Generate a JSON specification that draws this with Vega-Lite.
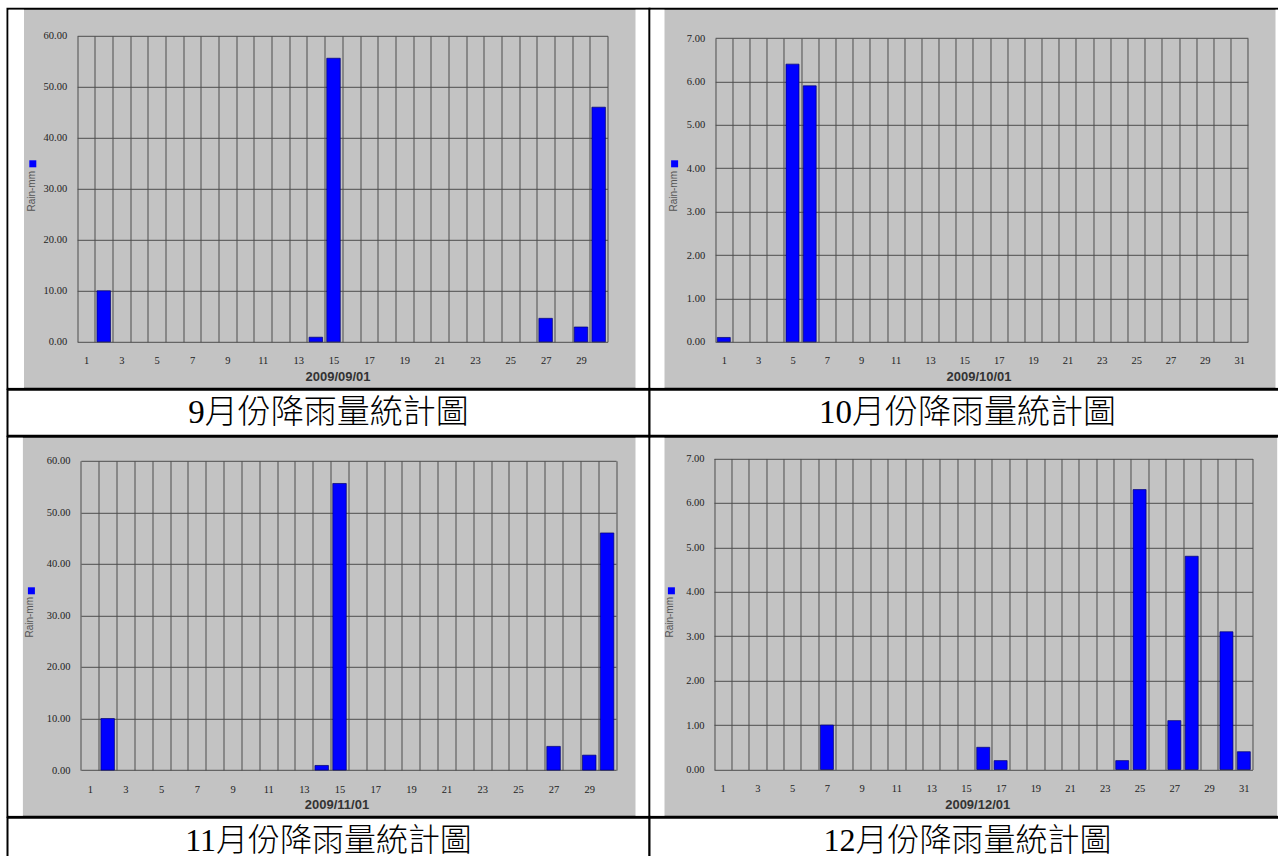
{
  "$schema": "https://vega.github.io/schema/vega-lite/v6.json",
  "background": "white",
  "padding": {"left": 6.5, "top": 7.8, "right": 0, "bottom": 0},
  "spacing": -2,
  "resolve": {"scale": {"color": "independent"}, "legend": {"color": "independent"}},
  "config": {
    "view": {"stroke": null},
    "axis": {"domain": false, "ticks": false, "tickSize": 0, "grid": true, "gridColor": "#4d4d4d", "gridWidth": 1, "gridOpacity": 1,
      "labelFont": "Liberation Serif", "labelFontSize": 10.5, "labelColor": "#222222", "labelFlush": false, "labelOverlap": false, "labelBound": false,
      "titleFont": "Liberation Sans"},
    "axisX": {"titleFontWeight": "bold", "titleFontSize": 13, "titleColor": "#333333", "titleBaseline": "middle", "titleAlign": "center", "labelBaseline": "middle", "labelPadding": 19},
    "axisY": {"titleFontWeight": "normal", "titleFontSize": 10, "titleColor": "#555555", "titleBaseline": "middle", "titleAlign": "center", "titleAngle": 270}
  },
  "datasets": {
    "sep": [{"day": 2, "rain": 10.0}, {"day": 14, "rain": 0.9}, {"day": 15, "rain": 55.6}, {"day": 27, "rain": 4.6}, {"day": 29, "rain": 2.9}, {"day": 30, "rain": 46.0}],
    "oct": [{"day": 1, "rain": 0.1}, {"day": 5, "rain": 6.4}, {"day": 6, "rain": 5.9}],
    "nov": [{"day": 2, "rain": 10.0}, {"day": 14, "rain": 0.9}, {"day": 15, "rain": 55.6}, {"day": 27, "rain": 4.6}, {"day": 29, "rain": 2.9}, {"day": 30, "rain": 46.0}],
    "dec": [{"day": 7, "rain": 1.0}, {"day": 16, "rain": 0.5}, {"day": 17, "rain": 0.2}, {"day": 24, "rain": 0.2}, {"day": 25, "rain": 6.3}, {"day": 27, "rain": 1.1}, {"day": 28, "rain": 4.8}, {"day": 30, "rain": 3.1}, {"day": 31, "rain": 0.4}]
  },
  "vconcat": [
    {
      "hconcat": [
        {
          "width": 642, "height": 380,
          "view": {"fill": "#c3c3c3", "stroke": "black", "strokeWidth": 2},
          "resolve": {"axis": {"x": "independent", "y": "independent"}},
          "layer": [
            {"data": {"name": "sep"},
             "mark": {"type": "bar", "orient": "vertical", "width": 13.5, "stroke": "#000070", "strokeWidth": 0.7},
             "encoding": {
               "x": {"field": "day", "type": "quantitative", "scale": {"domain": [0.5, 30.5], "range": [69.7, 600], "nice": false, "zero": false, "padding": 0},
                 "axis": {"orient": "bottom", "grid": false, "values": [0.5,1.5,2.5,3.5,4.5,5.5,6.5,7.5,8.5,9.5,10.5,11.5,12.5,13.5,14.5,15.5,16.5,17.5,18.5,19.5,20.5,21.5,22.5,23.5,24.5,25.5,26.5,27.5,28.5,29.5,30.5],
                   "labelExpr": "(datum.value + 0.5) % 2 == 1 && datum.value < 30 ? format(datum.value + 0.5, 'd') : ''",
                   "labelOffset": 8.84, "offset": -47, "title": "2009/09/01", "titleX": 330, "titleY": 35}},
               "y": {"field": "rain", "type": "quantitative", "scale": {"domain": [0, 60], "range": [333, 27], "nice": false, "padding": 0},
                 "axis": {"orient": "left", "values": [0, 10, 20, 30, 40, 50, 60], "format": ".2f", "offset": -69.7, "labelPadding": 10.5, "title": "Rain-mm", "titleX": -46, "titleY": 182}},
               "color": {"datum": "Rain-mm", "type": "nominal", "scale": {"range": ["#0000ff"]},
                 "legend": {"orient": "none", "legendX": 20.3, "legendY": 150, "title": null, "labelExpr": "''", "padding": 0, "symbolType": "square", "symbolSize": 49, "symbolStrokeWidth": 0}}
             }},
            {"data": {"values": [{}]}, "mark": {"type": "rect", "color": "white"},
             "encoding": {"x": {"datum": -3.386, "type": "quantitative",
                 "axis": {"orient": "top", "grid": true, "labels": false, "title": null, "offset": 0, "values": [0.5,1.5,2.5,3.5,4.5,5.5,6.5,7.5,8.5,9.5,10.5,11.5,12.5,13.5,14.5,15.5,16.5,17.5,18.5,19.5,20.5,21.5,22.5,23.5,24.5,25.5,26.5,27.5,28.5,29.5,30.5]}},
               "x2": {"datum": -2.51}, "y": {"datum": -9.02, "type": "quantitative", "axis": null}, "y2": {"datum": 65.098}}},
            {"data": {"values": [{}]}, "mark": {"type": "rect", "color": "white"},
             "encoding": {"x": {"datum": 32.084, "type": "quantitative", "axis": null}, "x2": {"datum": 32.819}, "y": {"datum": -9.02, "type": "quantitative", "axis": null}, "y2": {"datum": 65.098}}}
          ]
        },
        {
          "width": 636, "height": 380,
          "view": {"fill": "#c3c3c3", "stroke": "black", "strokeWidth": 2},
          "resolve": {"axis": {"x": "independent", "y": "independent"}},
          "layer": [
            {"data": {"name": "oct"},
             "mark": {"type": "bar", "orient": "vertical", "width": 13, "stroke": "#000070", "strokeWidth": 0.7},
             "encoding": {
               "x": {"field": "day", "type": "quantitative", "scale": {"domain": [0.5, 31.5], "range": [65.7, 598.3], "nice": false, "zero": false, "padding": 0},
                 "axis": {"orient": "bottom", "grid": false, "values": [0.5,1.5,2.5,3.5,4.5,5.5,6.5,7.5,8.5,9.5,10.5,11.5,12.5,13.5,14.5,15.5,16.5,17.5,18.5,19.5,20.5,21.5,22.5,23.5,24.5,25.5,26.5,27.5,28.5,29.5,30.5,31.5],
                   "labelExpr": "(datum.value + 0.5) % 2 == 1 ? format(datum.value + 0.5, 'd') : ''",
                   "labelOffset": 8.59, "offset": -47, "title": "2009/10/01", "titleX": 329, "titleY": 35}},
               "y": {"field": "rain", "type": "quantitative", "scale": {"domain": [0, 7], "range": [333, 29.3], "nice": false, "padding": 0},
                 "axis": {"orient": "left", "values": [0, 1, 2, 3, 4, 5, 6, 7], "format": ".2f", "offset": -65.7, "labelPadding": 10.5, "title": "Rain-mm", "titleX": -42.1, "titleY": 182}},
               "color": {"datum": "Rain-mm", "type": "nominal", "scale": {"range": ["#0000ff"]},
                 "legend": {"orient": "none", "legendX": 20.1, "legendY": 150, "title": null, "labelExpr": "''", "padding": 0, "symbolType": "square", "symbolSize": 49, "symbolStrokeWidth": 0}}
             }},
            {"data": {"values": [{}]}, "mark": {"type": "rect", "color": "white"},
             "encoding": {"x": {"datum": -3.266, "type": "quantitative",
                 "axis": {"orient": "top", "grid": true, "labels": false, "title": null, "offset": 0, "values": [0.5,1.5,2.5,3.5,4.5,5.5,6.5,7.5,8.5,9.5,10.5,11.5,12.5,13.5,14.5,15.5,16.5,17.5,18.5,19.5,20.5,21.5,22.5,23.5,24.5,25.5,26.5,27.5,28.5,29.5,30.5,31.5]}},
               "x2": {"datum": -2.451}, "y": {"datum": -1.06, "type": "quantitative", "axis": null}, "y2": {"datum": 7.652}}},
            {"data": {"values": [{}]}, "mark": {"type": "rect", "color": "white"},
             "encoding": {"x": {"datum": 33.112, "type": "quantitative", "axis": null}, "x2": {"datum": 33.635}, "y": {"datum": -1.06, "type": "quantitative", "axis": null}, "y2": {"datum": 7.652}}}
          ]
        }
      ],
      "spacing": 0, "bounds": "flush",
      "resolve": {"scale": {"color": "independent"}, "legend": {"color": "independent"}}
    },
    {
      "hconcat": [
        {"width": 642, "height": 46, "view": {"fill": "white", "stroke": "black", "strokeWidth": 2},
         "data": {"values": [{"caption": "9月份降雨量統計圖"}]},
         "mark": {"type": "text", "font": "'Liberation Serif', 'Noto Sans CJK TC', serif", "fontSize": 33, "fontWeight": 300, "color": "black", "baseline": "middle", "align": "center"},
         "encoding": {"text": {"field": "caption"}}},
        {"width": 636, "height": 46, "view": {"fill": "white", "stroke": "black", "strokeWidth": 2},
         "data": {"values": [{"caption": "10月份降雨量統計圖"}]},
         "mark": {"type": "text", "font": "'Liberation Serif', 'Noto Sans CJK TC', serif", "fontSize": 33, "fontWeight": 300, "color": "black", "baseline": "middle", "align": "center"},
         "encoding": {"text": {"field": "caption"}}}
      ],
      "spacing": 0, "bounds": "flush"
    },
    {
      "hconcat": [
        {
          "width": 642, "height": 380,
          "view": {"fill": "#c3c3c3", "stroke": "black", "strokeWidth": 2},
          "resolve": {"axis": {"x": "independent", "y": "independent"}},
          "layer": [
            {"data": {"name": "nov"},
             "mark": {"type": "bar", "orient": "vertical", "width": 13.5, "stroke": "#000070", "strokeWidth": 0.7},
             "encoding": {
               "x": {"field": "day", "type": "quantitative", "scale": {"domain": [0.5, 30.5], "range": [73.4, 608.5], "nice": false, "zero": false, "padding": 0},
                 "axis": {"orient": "bottom", "grid": false, "values": [0.5,1.5,2.5,3.5,4.5,5.5,6.5,7.5,8.5,9.5,10.5,11.5,12.5,13.5,14.5,15.5,16.5,17.5,18.5,19.5,20.5,21.5,22.5,23.5,24.5,25.5,26.5,27.5,28.5,29.5,30.5],
                   "labelExpr": "(datum.value + 0.5) % 2 == 1 && datum.value < 30 ? format(datum.value + 0.5, 'd') : ''",
                   "labelOffset": 8.92, "offset": -46.7, "title": "2009/11/01", "titleX": 329, "titleY": 34}},
               "y": {"field": "rain", "type": "quantitative", "scale": {"domain": [0, 60], "range": [333.3, 24], "nice": false, "padding": 0},
                 "axis": {"orient": "left", "values": [0, 10, 20, 30, 40, 50, 60], "format": ".2f", "offset": -73.4, "labelPadding": 11, "title": "Rain-mm", "titleX": -51, "titleY": 180}},
               "color": {"datum": "Rain-mm", "type": "nominal", "scale": {"range": ["#0000ff"]},
                 "legend": {"orient": "none", "legendX": 18.9, "legendY": 149, "title": null, "labelExpr": "''", "padding": 0, "symbolType": "square", "symbolSize": 49, "symbolStrokeWidth": 0}}
             }},
            {"data": {"values": [{}]}, "mark": {"type": "rect", "color": "white"},
             "encoding": {"x": {"datum": -3.559, "type": "quantitative",
                 "axis": {"orient": "top", "grid": true, "labels": false, "title": null, "offset": 0, "values": [0.5,1.5,2.5,3.5,4.5,5.5,6.5,7.5,8.5,9.5,10.5,11.5,12.5,13.5,14.5,15.5,16.5,17.5,18.5,19.5,20.5,21.5,22.5,23.5,24.5,25.5,26.5,27.5,28.5,29.5,30.5]}},
               "x2": {"datum": -2.752}, "y": {"datum": -8.865, "type": "quantitative", "axis": null}, "y2": {"datum": 64.462}}},
            {"data": {"values": [{}]}, "mark": {"type": "rect", "color": "white"},
             "encoding": {"x": {"datum": 31.593, "type": "quantitative", "axis": null}, "x2": {"datum": 32.322}, "y": {"datum": -8.865, "type": "quantitative", "axis": null}, "y2": {"datum": 64.462}}}
          ]
        },
        {
          "width": 636, "height": 380,
          "view": {"fill": "#c3c3c3", "stroke": "black", "strokeWidth": 2},
          "resolve": {"axis": {"x": "independent", "y": "independent"}},
          "layer": [
            {"data": {"name": "dec"},
             "mark": {"type": "bar", "orient": "vertical", "width": 13, "stroke": "#000070", "strokeWidth": 0.7},
             "encoding": {
               "x": {"field": "day", "type": "quantitative", "scale": {"domain": [0.5, 31.5], "range": [64.5, 603], "nice": false, "zero": false, "padding": 0},
                 "axis": {"orient": "bottom", "grid": false, "values": [0.5,1.5,2.5,3.5,4.5,5.5,6.5,7.5,8.5,9.5,10.5,11.5,12.5,13.5,14.5,15.5,16.5,17.5,18.5,19.5,20.5,21.5,22.5,23.5,24.5,25.5,26.5,27.5,28.5,29.5,30.5,31.5],
                   "labelExpr": "(datum.value + 0.5) % 2 == 1 ? format(datum.value + 0.5, 'd') : ''",
                   "labelOffset": 8.69, "offset": -47.3, "title": "2009/12/01", "titleX": 327.7, "titleY": 35}},
               "y": {"field": "rain", "type": "quantitative", "scale": {"domain": [0, 7], "range": [332.7, 21.7], "nice": false, "padding": 0},
                 "axis": {"orient": "left", "values": [0, 1, 2, 3, 4, 5, 6, 7], "format": ".2f", "offset": -64.5, "labelPadding": 10, "title": "Rain-mm", "titleX": -44.1, "titleY": 180}},
               "color": {"datum": "Rain-mm", "type": "nominal", "scale": {"range": ["#0000ff"]},
                 "legend": {"orient": "none", "legendX": 16.9, "legendY": 149, "title": null, "labelExpr": "''", "padding": 0, "symbolType": "square", "symbolSize": 49, "symbolStrokeWidth": 0}}
             }},
            {"data": {"values": [{}]}, "mark": {"type": "rect", "color": "white"},
             "encoding": {"x": {"datum": -3.156, "type": "quantitative",
                 "axis": {"orient": "top", "grid": true, "labels": false, "title": null, "offset": 0, "values": [0.5,1.5,2.5,3.5,4.5,5.5,6.5,7.5,8.5,9.5,10.5,11.5,12.5,13.5,14.5,15.5,16.5,17.5,18.5,19.5,20.5,21.5,22.5,23.5,24.5,25.5,26.5,27.5,28.5,29.5,30.5,31.5]}},
               "x2": {"datum": -2.35}, "y": {"datum": -1.042, "type": "quantitative", "axis": null}, "y2": {"datum": 7.466}}},
            {"data": {"values": [{}]}, "mark": {"type": "rect", "color": "white"},
             "encoding": {"x": {"datum": 32.922, "type": "quantitative", "axis": null}, "x2": {"datum": 33.342}, "y": {"datum": -1.042, "type": "quantitative", "axis": null}, "y2": {"datum": 7.466}}}
          ]
        }
      ],
      "spacing": 0, "bounds": "flush",
      "resolve": {"scale": {"color": "independent"}, "legend": {"color": "independent"}}
    },
    {
      "hconcat": [
        {"width": 642, "height": 46, "view": {"fill": "white", "stroke": "black", "strokeWidth": 2},
         "data": {"values": [{"caption": "11月份降雨量統計圖"}]},
         "mark": {"type": "text", "font": "'Liberation Serif', 'Noto Sans CJK TC', serif", "fontSize": 32, "fontWeight": 300, "color": "black", "baseline": "middle", "align": "center"},
         "encoding": {"text": {"field": "caption"}}},
        {"width": 636, "height": 46, "view": {"fill": "white", "stroke": "black", "strokeWidth": 2},
         "data": {"values": [{"caption": "12月份降雨量統計圖"}]},
         "mark": {"type": "text", "font": "'Liberation Serif', 'Noto Sans CJK TC', serif", "fontSize": 32, "fontWeight": 300, "color": "black", "baseline": "middle", "align": "center"},
         "encoding": {"text": {"field": "caption"}}}
      ],
      "spacing": 0, "bounds": "flush"
    }
  ]
}
